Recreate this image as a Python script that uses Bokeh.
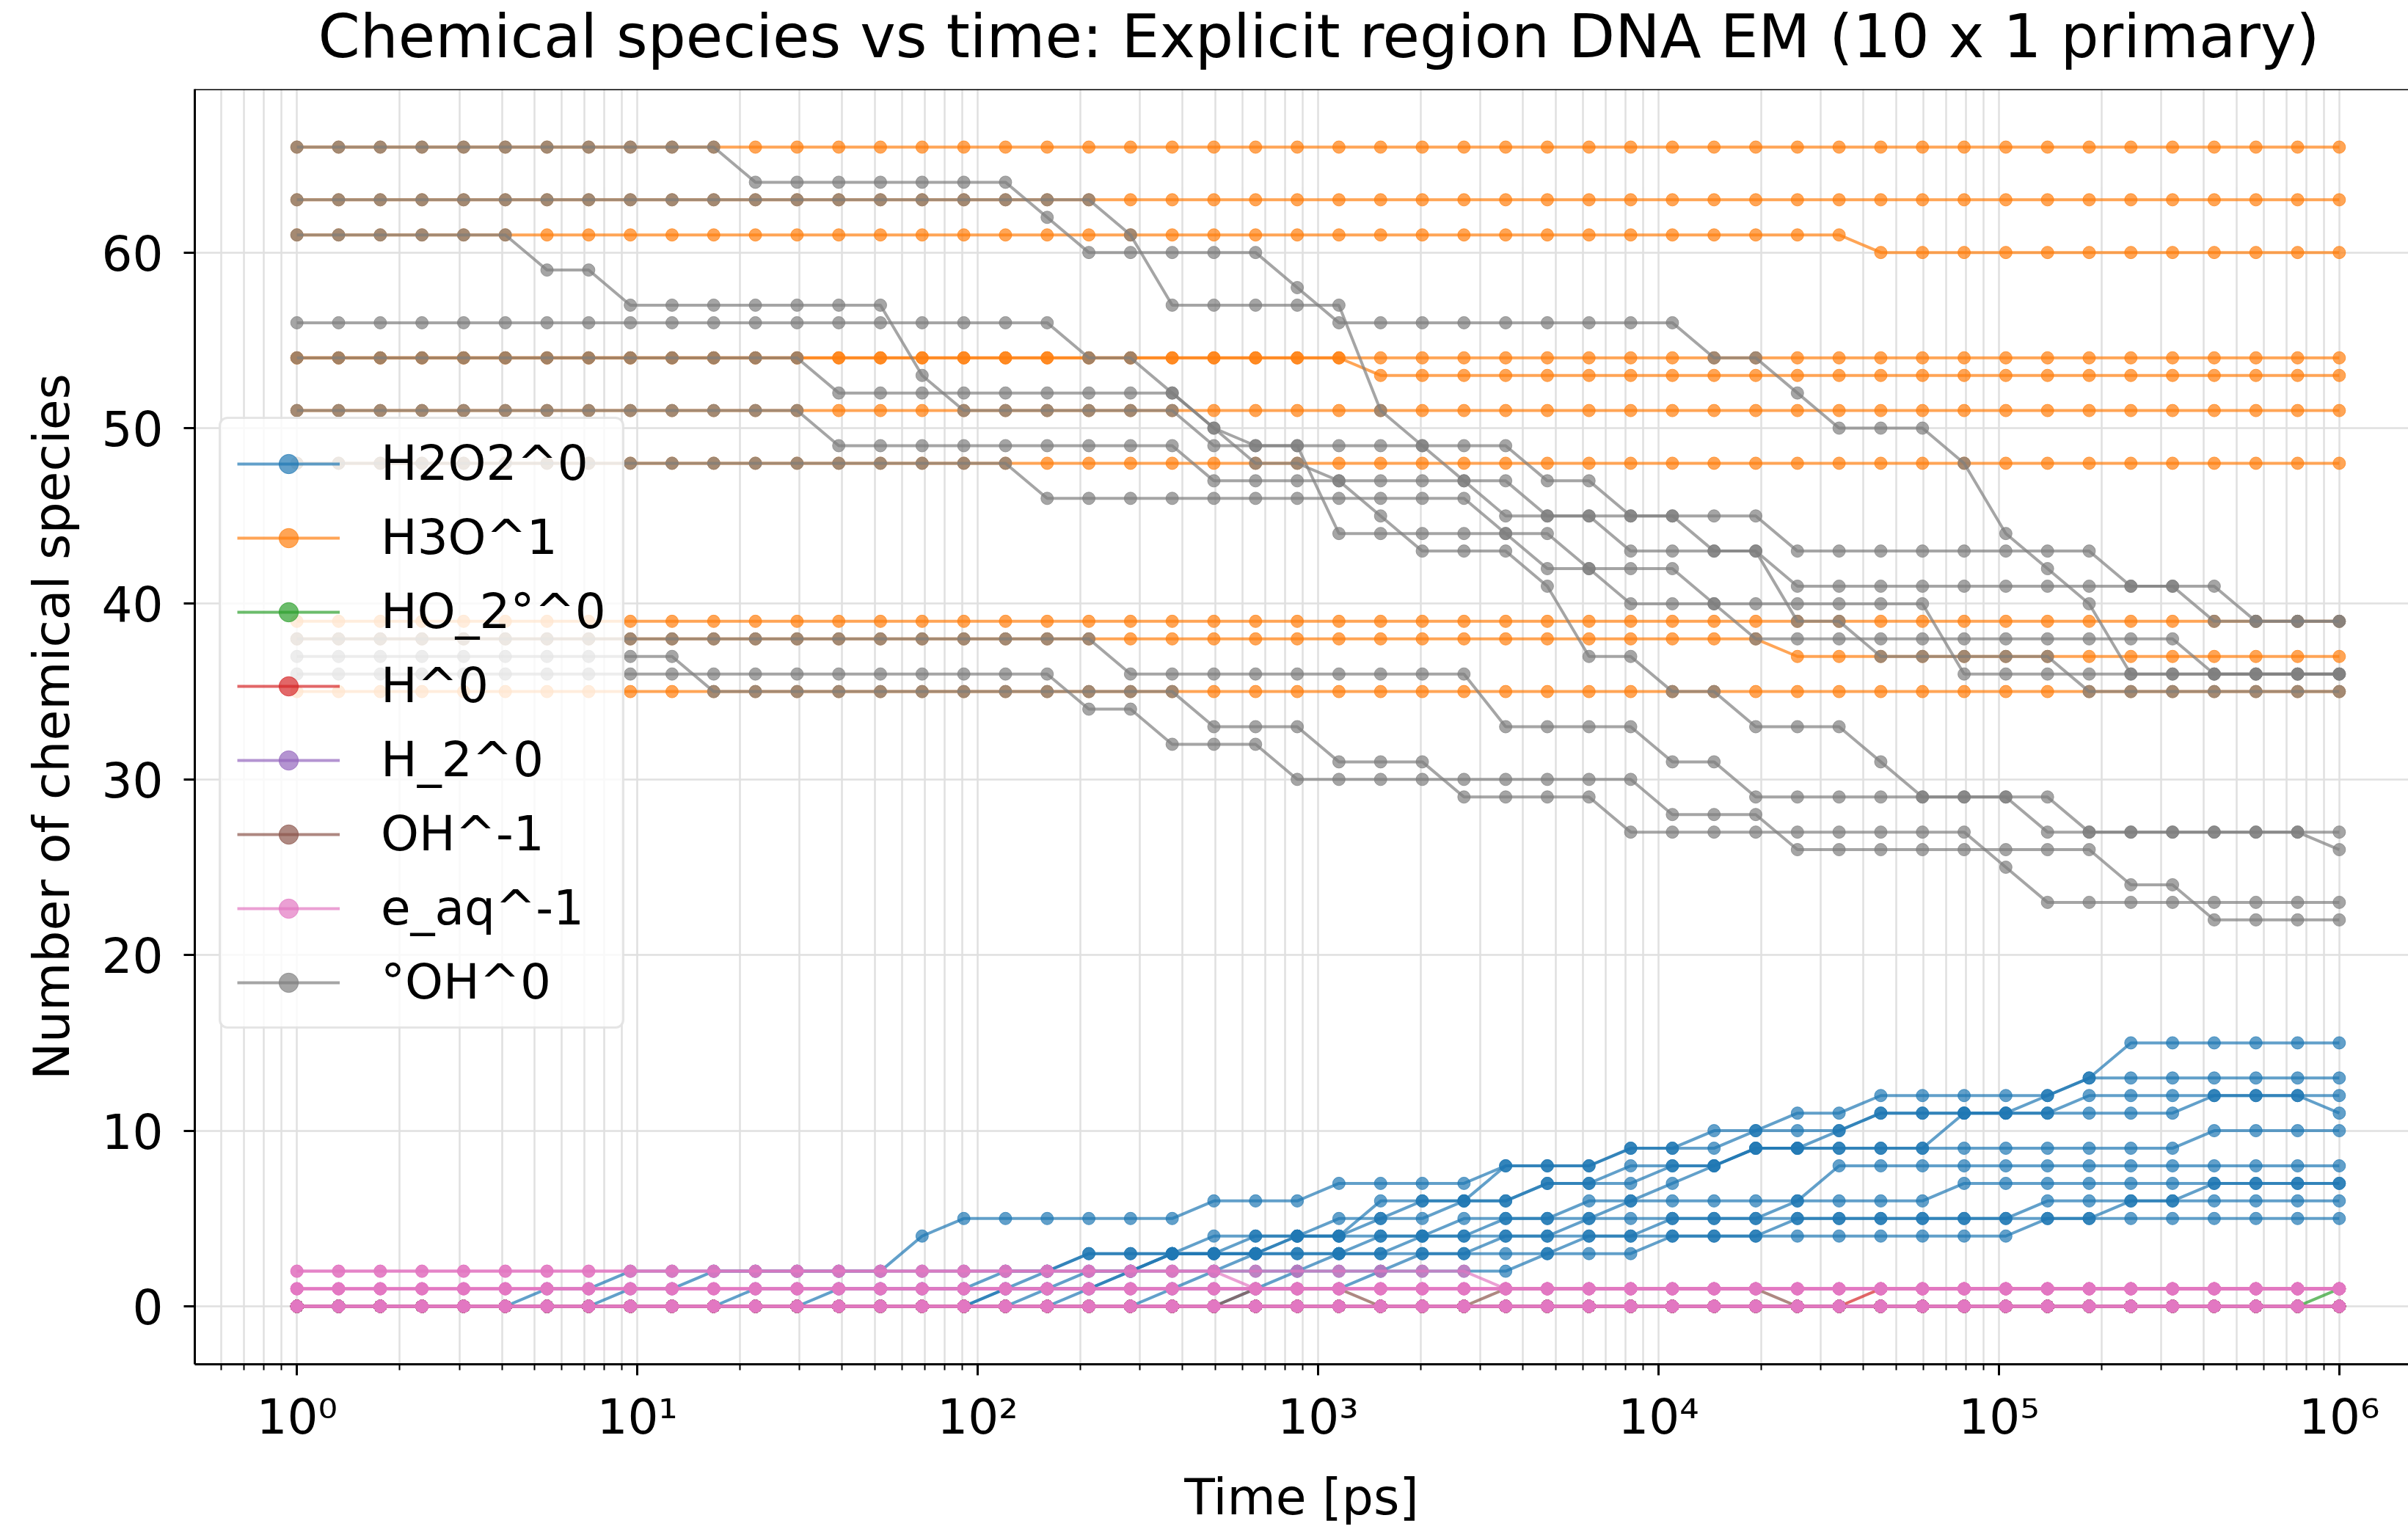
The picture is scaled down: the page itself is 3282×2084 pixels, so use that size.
import numpy as np
from bokeh.plotting import figure
from bokeh.models import (Range1d, FixedTicker, CustomJSTickFormatter, Legend,
                          LegendItem, Span, Title)
from bokeh.embed import file_html
from bokeh.resources import INLINE

# ---------------- data ----------------
# sample times (log spaced, 50 samples from 1 ps to 1e6 ps)
time_ps = np.logspace(0, 6, 50)

species = ["H2O2^0", "H3O^1", "HO_2°^0", "H^0", "H_2^0", "OH^-1", "e_aq^-1", "°OH^0"]
colors = ["#1f77b4", "#ff7f0e", "#2ca02c", "#d62728", "#9467bd", "#8c564b",
          "#e377c2", "#7f7f7f"]

# each run: list of (sample index, value) change points
h2o2_runs = [
    [(0, 0), (6, 1), (8, 2), (15, 4), (16, 5), (22, 6), (25, 7), (29, 8), (32, 9),
     (34, 10), (36, 11), (38, 12), (43, 13), (44, 15)],
    [(0, 0), (8, 1), (10, 2), (19, 3), (23, 4), (26, 6), (29, 8), (32, 9), (35, 10),
     (38, 11), (42, 12), (43, 13)],
    [(0, 0), (11, 1), (18, 2), (21, 3), (24, 4), (26, 5), (28, 6), (30, 7), (33, 8),
     (35, 9), (37, 10), (38, 11), (46, 12), (49, 11)],
    [(0, 0), (13, 1), (17, 2), (19, 3), (22, 4), (25, 5), (27, 6), (30, 7), (32, 8),
     (35, 9), (40, 11), (43, 12)],
    [(0, 0), (17, 1), (19, 2), (21, 3), (26, 4), (29, 5), (31, 6), (33, 7), (34, 8),
     (35, 9), (46, 10)],
    [(0, 0), (18, 1), (20, 2), (21, 3), (24, 4), (28, 5), (32, 6), (37, 8)],
    [(0, 0), (17, 1), (20, 2), (23, 3), (27, 4), (31, 5), (36, 6), (40, 7)],
    [(0, 0), (19, 1), (22, 2), (25, 3), (29, 4), (33, 5), (44, 6), (46, 7)],
    [(0, 0), (21, 1), (24, 2), (27, 3), (31, 4), (36, 5), (42, 6)],
    [(0, 0), (23, 1), (26, 2), (30, 3), (33, 4), (42, 5)],
]
h3o_runs = [
    [(0, 66)], [(0, 63)], [(0, 61), (38, 60)], [(0, 54)], [(0, 54), (26, 53)],
    [(0, 51)], [(0, 48)], [(0, 39)], [(0, 38), (36, 37)], [(0, 35)],
]
ho2_runs = [[(0, 0), (49, 1)]] + [[(0, 0)]] * 9
h_runs = [[(0, 0), (38, 1)]] + [[(0, 0)]] * 9
h2_runs = [[(0, 0)]] * 10
ohm_runs = [[(0, 0), (23, 1), (26, 0), (29, 1), (36, 0)]] + [[(0, 0)]] * 9
eaq_runs = [[(0, 2), (23, 1)], [(0, 2), (29, 1)]] + [[(0, 1)]] * 4 + [[(0, 0)]] * 4
oh_runs = [
    [(0, 66), (11, 64), (18, 62), (19, 60), (24, 58), (25, 56), (34, 54), (36, 52),
     (37, 50), (40, 48), (41, 44), (42, 42), (43, 40), (44, 36)],
    [(0, 63), (20, 61), (21, 57), (26, 51), (27, 49), (28, 47), (29, 45), (32, 43),
     (36, 41), (47, 39)],
    [(0, 61), (6, 59), (8, 57), (15, 53), (16, 51), (22, 49), (25, 44), (31, 42),
     (34, 40), (35, 38), (46, 36)],
    [(0, 56), (19, 54), (21, 52), (22, 50), (23, 48), (25, 47), (26, 45), (27, 43),
     (30, 41), (31, 37), (33, 35), (35, 33), (38, 31), (39, 29), (43, 27), (49, 26)],
    [(0, 54), (13, 52), (22, 50), (23, 49), (30, 47), (32, 45), (36, 43), (44, 41),
     (46, 39)],
    [(0, 51), (13, 49), (22, 47), (30, 45), (34, 43), (36, 39), (38, 37), (43, 35)],
    [(0, 48), (18, 46), (29, 44), (30, 42), (32, 40), (40, 36)],
    [(0, 38), (20, 36), (29, 33), (33, 31), (35, 29), (42, 27)],
    [(0, 37), (10, 35), (22, 33), (25, 31), (28, 29), (32, 27), (41, 25), (42, 23)],
    [(0, 36), (19, 34), (21, 32), (24, 30), (33, 28), (36, 26), (44, 24), (46, 22)],
]
all_runs = [h2o2_runs, h3o_runs, ho2_runs, h_runs, h2_runs, ohm_runs, eaq_runs, oh_runs]

x_ticks = [1, 10, 100, 1000, 10000, 100000, 1000000]
y_ticks = [0, 10, 20, 30, 40, 50, 60]
title_text = "Chemical species vs time: Explicit region DNA EM (10 x 1 primary)"


def expand(cp, n=len(time_ps)):
    arr = np.zeros(n)
    for k, (i, v) in enumerate(cp):
        end = cp[k + 1][0] if k + 1 < len(cp) else n
        arr[i:end] = v
    return arr


# ---------------- figure ----------------
FONT = "DejaVu Sans"
# axes span 10^-0.3 .. 10^6.3 in the original; the image is cut at the right
XMIN, XMAX = 10 ** -0.3, 10 ** 6.203
YMIN, YMAX = -3.3, 69.3
W, H = 3282, 2084
TOP, BOTTOM, LEFT = 121, 225, 265
p = figure(width=W, height=H, x_axis_type="log",
           x_range=Range1d(XMIN, XMAX), y_range=Range1d(YMIN, YMAX),
           output_backend="svg", toolbar_location=None,
           min_border_left=LEFT, min_border_right=0, min_border_top=TOP,
           min_border_bottom=BOTTOM)

# spacer between the frame and the title so the title sits near the top edge
p.add_layout(Title(text=" ", text_font_size="1px", standoff=20), "above")
p.title.text = title_text
p.title.text_font = FONT
p.title.text_font_size = "82px"
p.title.text_font_style = "normal"
p.title.align = "left"
p.title.offset = 168
p.title.vertical_align = "top"
p.title.standoff = 0
p.title.text_color = "black"

minor = [m * 10.0 ** k for k in range(-1, 7) for m in range(2, 10)
         if XMIN <= m * 10.0 ** k <= XMAX]
xt = FixedTicker(ticks=x_ticks, minor_ticks=minor)
yt = FixedTicker(ticks=y_ticks)
p.xaxis.ticker = xt
p.xgrid.ticker = xt
p.yaxis.ticker = yt
p.ygrid.ticker = yt
p.xaxis.formatter = CustomJSTickFormatter(code="""
const sup = {'0':'\u2070','1':'\u00b9','2':'\u00b2','3':'\u00b3','4':'\u2074',
             '5':'\u2075','6':'\u2076','7':'\u2077','8':'\u2078','9':'\u2079','-':'\u207b'};
const e = Math.round(Math.log10(tick));
return '10' + String(e).split('').map(c => sup[c]).join('');
""")

for ax in (p.xaxis[0], p.yaxis[0]):
    ax.axis_line_width = 3
    ax.axis_line_color = "black"
    ax.major_tick_line_width = 3
    ax.minor_tick_line_width = 2
    ax.major_tick_out = 15
    ax.major_tick_in = 0
    ax.minor_tick_out = 8
    ax.minor_tick_in = 0
    ax.major_label_text_font = FONT
    ax.major_label_text_font_size = "66px"
    ax.major_label_text_color = "black"
    ax.axis_label_text_font = FONT
    ax.axis_label_text_font_size = "68px"
    ax.axis_label_text_font_style = "normal"
    ax.axis_label_text_color = "black"
p.yaxis.minor_tick_line_color = None
p.xaxis.axis_label = "Time [ps]"
p.yaxis.axis_label = "Number of chemical species"
p.yaxis.major_label_standoff = 28
p.yaxis.axis_label_standoff = 26
p.xaxis.major_label_standoff = 18
p.xaxis.axis_label_standoff = 28

p.xgrid.grid_line_color = "#e0e0e0"
p.xgrid.grid_line_width = 2.5
p.xgrid.minor_grid_line_color = "#e0e0e0"
p.xgrid.minor_grid_line_width = 2.5
p.ygrid.grid_line_color = "#e0e0e0"
p.ygrid.grid_line_width = 2.5
p.outline_line_color = None

# top spine (the right spine lies outside the cut image)
p.add_layout(Span(location=YMAX, dimension="width", line_color="black",
                  line_width=3))

items = []
for name, color, runs in zip(species, colors, all_runs):
    for k, cp in enumerate(runs):
        y = expand(cp)
        r1 = p.line(time_ps, y, line_color=color, line_width=4, line_alpha=0.7)
        r2 = p.scatter(time_ps, y, size=17, fill_color=color, line_color=color,
                       fill_alpha=0.7, line_alpha=0.7, line_width=1)
        if k == 0:
            items.append(LegendItem(label=name, renderers=[r1, r2]))

legend = Legend(items=items, location=(33, 457))
legend.label_text_font = FONT
legend.label_text_font_size = "66px"
legend.label_text_color = "black"
legend.glyph_width = 140
legend.glyph_height = 66
legend.label_height = 66
legend.spacing = 24
legend.padding = 22
legend.margin = 0
legend.label_standoff = 56
legend.border_line_color = "#cccccc"
legend.border_line_width = 3
legend.background_fill_alpha = 0.8
if "border_radius" in legend.properties():
    legend.border_radius = 12
p.add_layout(legend)

open("out.html", "w").write(file_html(p, INLINE, "plot"))
